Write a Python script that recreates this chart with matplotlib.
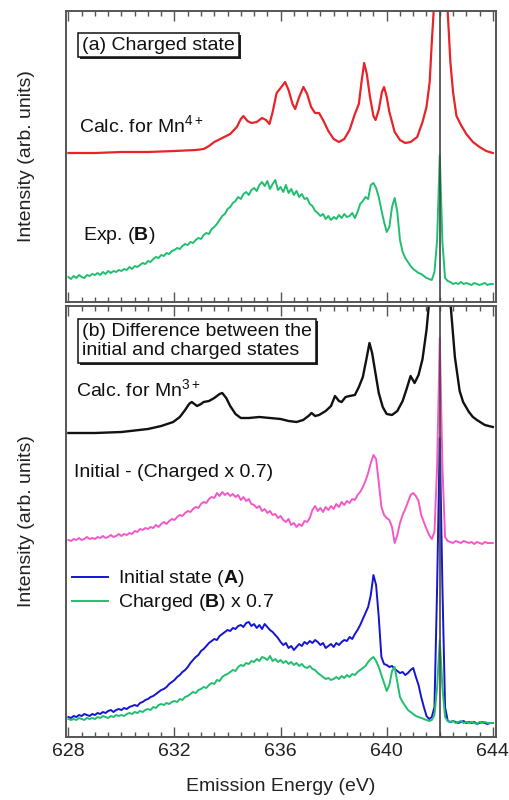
import numpy as np
import matplotlib
matplotlib.use("Agg")
import matplotlib.pyplot as plt
from matplotlib.ticker import MultipleLocator
import matplotlib.patheffects as pe

plt.rcParams['font.family'] = ['Liberation Sans', 'DejaVu Sans']
plt.rcParams['mathtext.fontset'] = 'custom'
plt.rcParams['mathtext.rm'] = 'Liberation Sans'
plt.rcParams['mathtext.it'] = 'Liberation Sans:italic'
plt.rcParams['mathtext.bf'] = 'Liberation Sans:bold'

# ---------------- data ----------------
# experimental energy grid (eV), 0.1 eV steps
energy_exp = np.round(np.arange(628.0, 644.0001, 0.1), 1)

# (a) Exp. (B), charged state (arb. units, panel a)
exp_B = [
    0.25, 0.23, 0.26, 0.24, 0.27, 0.25, 0.24, 0.27, 0.26, 0.28,
    0.27, 0.29, 0.27, 0.30, 0.28, 0.31, 0.29, 0.31, 0.30, 0.32,
    0.31, 0.33, 0.32, 0.35, 0.33, 0.36, 0.35, 0.37, 0.39, 0.38,
    0.41, 0.40, 0.43, 0.45, 0.44, 0.47, 0.46, 0.49, 0.48, 0.51,
    0.52, 0.54, 0.53, 0.56, 0.58, 0.57, 0.60, 0.59, 0.62, 0.64,
    0.63, 0.67, 0.69, 0.68, 0.73, 0.75, 0.78, 0.82, 0.86, 0.88,
    0.93, 0.95, 0.99, 1.01, 1.05, 1.03, 1.08, 1.10, 1.07, 1.12,
    1.14, 1.11, 1.17, 1.20, 1.16, 1.21, 1.13, 1.18, 1.22, 1.12,
    1.15, 1.10, 1.17, 1.09, 1.13, 1.07, 1.11, 1.05, 1.08, 1.03,
    1.04, 0.98, 0.96, 0.91, 0.89, 0.86, 0.88, 0.83, 0.86, 0.82,
    0.85, 0.83, 0.87, 0.84, 0.88, 0.85, 0.86, 0.89, 0.84, 0.90,
    0.98, 1.01, 1.05, 1.03, 1.17, 1.19, 1.14, 1.05, 0.92, 0.80,
    0.70, 0.75, 0.95, 1.04, 0.90, 0.62, 0.50, 0.44, 0.40, 0.36,
    0.33, 0.31, 0.29, 0.28, 0.26, 0.24, 0.23, 0.22, 0.30, 0.62,
    1.47, 0.60, 0.24, 0.21, 0.20, 0.18, 0.19, 0.18, 0.20, 0.18,
    0.19, 0.18, 0.17, 0.19, 0.18, 0.17, 0.18, 0.19, 0.17, 0.18,
    0.18]

# (a) Calc. for Mn4+
energy_mn4 = [628.0, 629.0, 630.0, 631.0, 632.0, 632.8, 633.1, 633.3, 633.5, 633.8,
              634.1, 634.35, 634.5, 634.6, 634.75, 634.9, 635.1, 635.3, 635.45, 635.58,
              635.7, 635.85, 636.0, 636.17, 636.3, 636.45, 636.55, 636.7, 636.86, 637.0,
              637.15, 637.3, 637.45, 637.6, 637.8, 638.0, 638.2, 638.4, 638.6, 638.8,
              638.95, 639.05, 639.15, 639.25, 639.37, 639.5, 639.58, 639.7, 639.82, 639.9,
              640.0, 640.1, 640.3, 640.5, 640.7, 640.9, 641.15, 641.35, 641.5, 641.62,
              641.7, 641.78, 641.9, 642.0, 642.1, 642.2, 642.3, 642.4, 642.5, 642.63,
              642.8, 643.0, 643.25, 643.5, 643.75, 644.0]
calc_mn4 = [1.49, 1.49, 1.50, 1.50, 1.51, 1.52, 1.53, 1.56, 1.60, 1.64,
            1.68, 1.75, 1.83, 1.86, 1.81, 1.79, 1.80, 1.84, 1.82, 1.78,
            1.90, 2.09, 2.14, 2.20, 2.12, 1.98, 1.93, 2.05, 2.15, 2.08,
            1.95, 1.89, 1.89, 1.82, 1.71, 1.63, 1.60, 1.63, 1.72, 1.88,
            1.98, 2.20, 2.39, 2.28, 2.05, 1.86, 1.82, 1.92, 2.10, 2.15,
            2.05, 1.90, 1.70, 1.62, 1.59, 1.60, 1.65, 1.80, 1.95, 2.20,
            2.60, 2.95, 3.60, 4.50, 3.60, 3.10, 2.90, 2.40, 2.10, 1.86,
            1.77, 1.68, 1.60, 1.55, 1.51, 1.49]

# (b) Calc. for Mn3+
energy_mn3 = [628.0, 629.0, 630.0, 631.0, 631.5, 631.95, 632.2, 632.4, 632.55, 632.65,
              632.85, 633.0, 633.1, 633.3, 633.5, 633.7, 633.8, 633.95, 634.1, 634.3,
              634.5, 634.8, 635.2, 635.6, 636.0, 636.3, 636.6, 636.85, 637.05, 637.17,
              637.3, 637.45, 637.7, 637.9, 638.05, 638.2, 638.3, 638.45, 638.6, 638.8,
              638.95, 639.1, 639.25, 639.35, 639.45, 639.55, 639.7, 639.85, 640.0, 640.2,
              640.4, 640.6, 640.75, 640.9, 641.05, 641.2, 641.35, 641.5, 641.6, 641.8,
              642.0, 642.2, 642.4, 642.57, 642.75, 642.88, 643.1, 643.25, 643.4, 643.7,
              644.0]
calc_mn3 = [3.04, 3.04, 3.05, 3.08, 3.11, 3.15, 3.20, 3.27, 3.33, 3.35,
            3.31, 3.33, 3.35, 3.36, 3.39, 3.43, 3.44, 3.39, 3.31, 3.23,
            3.19, 3.19, 3.20, 3.19, 3.18, 3.16, 3.15, 3.17, 3.21, 3.24,
            3.21, 3.22, 3.26, 3.31, 3.41, 3.36, 3.35, 3.40, 3.41, 3.42,
            3.50, 3.60, 3.80, 3.94, 3.84, 3.68, 3.44, 3.30, 3.23, 3.22,
            3.26, 3.36, 3.48, 3.61, 3.54, 3.62, 3.78, 4.07, 4.35, 5.00,
            6.00, 5.00, 4.35, 3.80, 3.46, 3.35, 3.25, 3.20, 3.17, 3.12,
            3.10]

# (b) Initial - (Charged x 0.7)
difference = [
    1.97, 1.96, 1.98, 1.97, 1.99, 1.97, 1.98, 2.00, 1.98, 1.99,
    1.98, 2.00, 1.99, 2.01, 1.99, 2.00, 2.02, 2.00, 2.01, 2.03,
    2.01, 2.03, 2.02, 2.04, 2.03, 2.06, 2.05, 2.08, 2.07, 2.09,
    2.08, 2.10, 2.09, 2.12, 2.10, 2.13, 2.15, 2.13, 2.16, 2.18,
    2.17, 2.20, 2.22, 2.21, 2.24, 2.26, 2.25, 2.28, 2.30, 2.29,
    2.33, 2.35, 2.34, 2.38, 2.40, 2.39, 2.44, 2.41, 2.45, 2.42,
    2.44, 2.41, 2.43, 2.40, 2.42, 2.37, 2.40, 2.36, 2.38, 2.33,
    2.32, 2.29, 2.31, 2.26, 2.28, 2.24, 2.26, 2.22, 2.23, 2.19,
    2.21, 2.17, 2.15, 2.18, 2.12, 2.14, 2.10, 2.13, 2.11, 2.16,
    2.15, 2.19, 2.27, 2.31, 2.26, 2.29, 2.25, 2.30, 2.27, 2.31,
    2.28, 2.33, 2.30, 2.35, 2.32, 2.36, 2.34, 2.38, 2.37, 2.42,
    2.45, 2.50, 2.56, 2.64, 2.74, 2.82, 2.78, 2.55, 2.30, 2.22,
    2.19, 2.17, 2.10, 1.94, 2.02, 2.14, 2.22, 2.28, 2.35, 2.42,
    2.44, 2.41, 2.36, 2.22, 2.15, 2.08, 2.02, 1.98, 2.05, 2.70,
    3.99, 2.70, 2.00, 1.96, 1.95, 1.94, 1.96, 1.95, 1.94, 1.96,
    1.95, 1.94, 1.95, 1.93, 1.95, 1.94, 1.93, 1.95, 1.94, 1.94,
    1.94]

# (b) Initial state (A)
initial_A = [
    0.20, 0.19, 0.21, 0.20, 0.22, 0.21, 0.23, 0.22, 0.21, 0.23,
    0.22, 0.24, 0.23, 0.25, 0.24, 0.26, 0.27, 0.25, 0.27, 0.28,
    0.27, 0.29, 0.28, 0.30, 0.31, 0.32, 0.31, 0.34, 0.35, 0.37,
    0.38, 0.40, 0.41, 0.43, 0.45, 0.47, 0.48, 0.50, 0.53, 0.55,
    0.57, 0.60, 0.62, 0.65, 0.67, 0.70, 0.74, 0.77, 0.80, 0.82,
    0.86, 0.88, 0.91, 0.94, 0.96, 0.98, 0.97, 1.01, 1.03, 1.05,
    1.07, 1.06, 1.09, 1.08, 1.11, 1.12, 1.10, 1.14, 1.15, 1.11,
    1.13, 1.09, 1.12, 1.08, 1.13, 1.10, 1.07, 1.05, 1.02, 0.99,
    0.95, 0.92, 0.94, 0.89, 0.91, 0.87, 0.90, 0.93, 0.91, 0.95,
    0.93, 0.96, 0.94, 0.97, 0.95, 0.92, 0.94, 0.89, 0.91, 0.93,
    0.90, 0.94, 0.92, 0.95, 0.97, 0.96, 1.00, 0.98, 1.03, 1.07,
    1.12, 1.18, 1.24, 1.30, 1.42, 1.62, 1.52, 1.20, 0.80, 0.73,
    0.72, 0.70, 0.71, 0.68, 0.66, 0.64, 0.65, 0.62, 0.64, 0.67,
    0.69, 0.60, 0.52, 0.40, 0.30, 0.21, 0.18, 0.20, 0.30, 1.50,
    2.99, 1.50, 0.30, 0.16, 0.15, 0.16, 0.15, 0.14, 0.15, 0.16,
    0.14, 0.15, 0.14, 0.15, 0.13, 0.14, 0.15, 0.14, 0.13, 0.14,
    0.14]

# (b) Charged (B) x 0.7
charged_B07 = [
    0.18, 0.17, 0.18, 0.17, 0.19, 0.18, 0.17, 0.19, 0.18, 0.19,
    0.18, 0.20, 0.19, 0.21, 0.20, 0.19, 0.21, 0.20, 0.22, 0.21,
    0.22, 0.21, 0.23, 0.24, 0.23, 0.25, 0.24, 0.26, 0.25, 0.27,
    0.28, 0.27, 0.30, 0.29, 0.32, 0.33, 0.32, 0.34, 0.33, 0.35,
    0.36, 0.35, 0.38, 0.37, 0.40, 0.41, 0.43, 0.45, 0.44, 0.47,
    0.48, 0.50, 0.49, 0.52, 0.54, 0.53, 0.57, 0.56, 0.60, 0.62,
    0.63, 0.65, 0.67, 0.66, 0.70, 0.72, 0.71, 0.74, 0.73, 0.76,
    0.75, 0.78, 0.76, 0.80, 0.79, 0.77, 0.81, 0.76, 0.78, 0.75,
    0.77, 0.74, 0.76, 0.73, 0.75, 0.72, 0.74, 0.71, 0.73, 0.70,
    0.69, 0.71, 0.68, 0.67, 0.64, 0.62, 0.60, 0.58, 0.59, 0.57,
    0.58, 0.60, 0.58, 0.61, 0.59, 0.62, 0.60, 0.63, 0.62, 0.65,
    0.67, 0.69, 0.71, 0.75, 0.78, 0.80, 0.76, 0.70, 0.62, 0.54,
    0.46, 0.52, 0.66, 0.70, 0.55, 0.40, 0.35, 0.31, 0.27, 0.25,
    0.23, 0.21, 0.20, 0.19, 0.18, 0.17, 0.16, 0.17, 0.22, 0.50,
    0.97, 0.50, 0.20, 0.16, 0.15, 0.16, 0.14, 0.15, 0.16, 0.14,
    0.15, 0.14, 0.15, 0.14, 0.13, 0.15, 0.14, 0.15, 0.14, 0.14,
    0.14]

elastic_line = 642.0
xticks = [628, 632, 636, 640, 644]

# ---------------- styling ----------------
RED = '#e8232a'
GREEN = '#1fbf6e'
PINK = '#f458c8'
BLUE = '#1414d2'
BLACK = '#111111'
FRAME = '#555555'
FS = 14

fig = plt.figure(figsize=(5.09, 8.0), dpi=100)
ax_a = fig.add_axes([66 / 509, 1 - 302 / 800, 430 / 509, 291 / 800])
ax_b = fig.add_axes([66 / 509, 1 - 737 / 800, 430 / 509, 431 / 800])

for ax in (ax_a, ax_b):
    ax.set_xlim(627.91, 644.12)
    ax.xaxis.set_major_locator(MultipleLocator(4))
    ax.xaxis.set_minor_locator(MultipleLocator(0.5))
    ax.tick_params(axis='x', which='both', direction='in', top=True, bottom=True,
                   color=FRAME, width=1.0)
    ax.tick_params(axis='x', which='major', length=7)
    ax.tick_params(axis='x', which='minor', length=3.5)
    ax.tick_params(axis='y', left=False, right=False, labelleft=False)
    for s in ax.spines.values():
        s.set_color(FRAME)
        s.set_linewidth(1.4)
    ax.axvline(elastic_line, color='#444444', lw=1.2, zorder=10)
    ax.set_ylabel('Intensity (arb. units)', fontsize=FS, color='#222222')
    ax.yaxis.set_label_coords(-0.093, 0.5)
    ax.yaxis.label.set_va('center')

ax_a.tick_params(axis='x', labelbottom=False)
ax_b.set_xticks(xticks)
ax_b.tick_params(axis='x', labelsize=FS, pad=4, labelcolor='#222222')
ax_b.set_xlabel('Emission Energy (eV)', fontsize=FS, color='#222222')
ax_b.xaxis.set_label_coords(0.5, -0.116)
ax_b.xaxis.label.set_va('center')

ax_a.set_ylim(0, 2.91)
ax_b.set_ylim(0, 4.31)

# panel (a)
ax_a.plot(energy_mn4, calc_mn4, color=RED, lw=1.6, solid_joinstyle='round')
ax_a.plot(energy_exp, exp_B, color=GREEN, lw=1.4)

# panel (b)
ax_b.plot(energy_mn3, calc_mn3, color=BLACK, lw=1.7, solid_joinstyle='round')
ax_b.plot(energy_exp, difference, color=PINK, lw=1.4)
l1, = ax_b.plot(energy_exp, initial_A, color=BLUE, lw=1.4)
l2, = ax_b.plot(energy_exp, charged_B07, color=GREEN, lw=1.4)

shadow = [pe.SimplePatchShadow(offset=(1.5, -1.5), shadow_rgbFace='#222222', alpha=1.0),
          pe.Normal()]

t = ax_a.text(628.52, 2.57, '(a) Charged state', fontsize=FS, va='center', ha='left',
              color='#111111',
              bbox=dict(boxstyle='square,pad=0.2', fc='white', ec='#111111', lw=1.1))
t.get_bbox_patch().set_path_effects(shadow)
ax_a.text(628.40, 1.70, 'Calc. for Mn$^{4+}$', fontsize=FS, va='baseline', ha='left',
          color='#111111')
ax_a.text(628.56, 0.62, r'Exp. ($\mathbf{B}$)', fontsize=FS, va='baseline', ha='left',
          color='#111111')

t2 = ax_b.text(628.51, 3.96, '(b) Difference between the\ninitial and charged states',
               fontsize=FS, va='center', ha='left', linespacing=1.18, color='#111111',
               bbox=dict(boxstyle='square,pad=0.2', fc='white', ec='#111111', lw=1.1))
t2.get_bbox_patch().set_path_effects(shadow)
ax_b.text(628.29, 3.41, 'Calc. for Mn$^{3+}$', fontsize=FS, va='baseline', ha='left',
          color='#111111')
ax_b.text(628.22, 2.60, 'Initial - (Charged x 0.7)', fontsize=FS, va='baseline', ha='left',
          color='#111111')

leg = ax_b.legend([l1, l2], [r'Initial state ($\mathbf{A}$)', r'Charged ($\mathbf{B}$) x 0.7'],
                  loc='upper left', bbox_to_anchor=(0.005, 0.40), frameon=False,
                  fontsize=FS, handlelength=1.85, handletextpad=0.5, labelspacing=0.15,
                  borderpad=0.2, borderaxespad=0.0)
for txt in leg.get_texts():
    txt.set_color('#111111')

fig.savefig('out.png', dpi=100)
